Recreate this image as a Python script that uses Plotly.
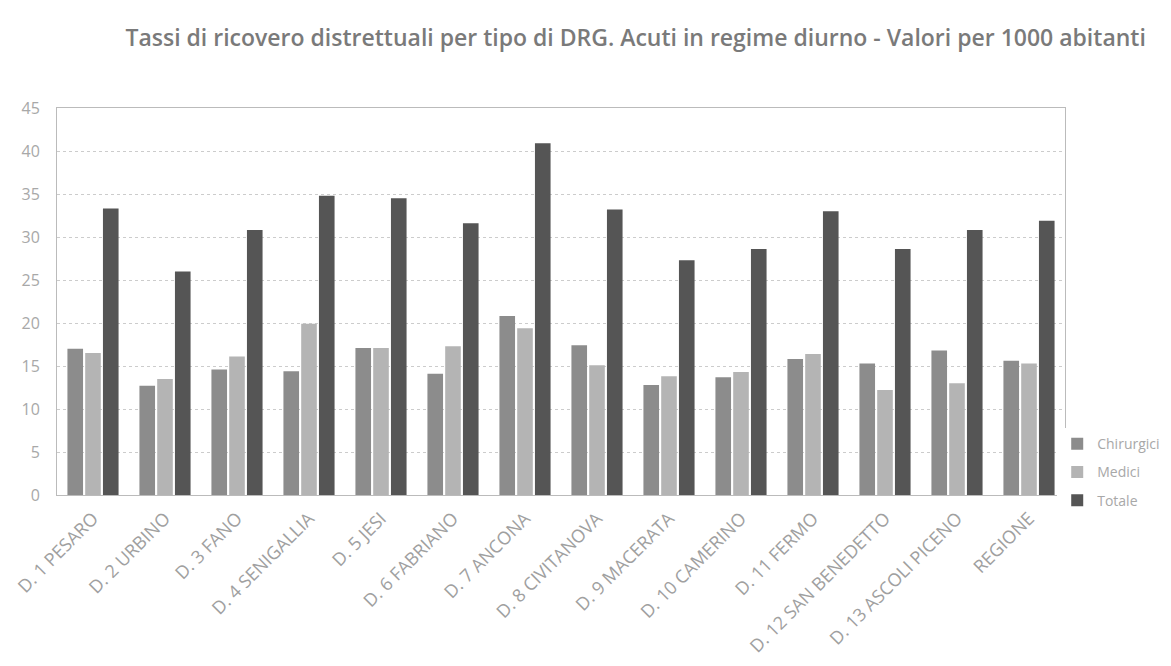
import plotly.graph_objects as go

categories = ["D. 1 PESARO", "D. 2 URBINO", "D. 3 FANO", "D. 4 SENIGALLIA", "D. 5 JESI",
              "D. 6 FABRIANO", "D. 7 ANCONA", "D. 8 CIVITANOVA", "D. 9 MACERATA",
              "D. 10 CAMERINO", "D. 11 FERMO", "D. 12 SAN BENEDETTO", "D. 13 ASCOLI PICENO",
              "REGIONE"]
chirurgici = [17.0, 12.7, 14.6, 14.4, 17.1, 14.1, 20.8, 17.4, 12.8, 13.7, 15.8, 15.3, 16.8, 15.6]
medici = [16.5, 13.5, 16.1, 19.9, 17.1, 17.3, 19.4, 15.1, 13.8, 14.3, 16.4, 12.2, 13.0, 15.3]
totale = [33.3, 26.0, 30.8, 34.8, 34.5, 31.6, 40.9, 33.2, 27.3, 28.6, 33.0, 28.6, 30.8, 31.9]
y_ticks = [0, 5, 10, 15, 20, 25, 30, 35, 40, 45]

title = "Tassi di ricovero distrettuali per tipo di DRG. Acuti in regime diurno - Valori per 1000 abitanti"

fig = go.Figure()
for name, vals, col in [("Chirurgici", chirurgici, "#8c8c8c"),
                        ("Medici", medici, "#b4b4b4"),
                        ("Totale", totale, "#555555")]:
    fig.add_trace(go.Bar(name=name, x=categories, y=vals, marker_color=col,
                         marker_line_width=0, legendgroup=name))

fig.update_layout(
    width=1171, height=666,
    paper_bgcolor="white", plot_bgcolor="white",
    barmode="group", bargap=0.26, bargroupgap=0.12,
    margin=dict(l=49, r=114, t=100, b=179, autoexpand=False),
    font=dict(family="Open Sans, Liberation Sans, sans-serif", color="#999999"),
    title=dict(text=title, x=0.536, xanchor="center", xref="container", y=0.955, yanchor="middle",
               font=dict(size=23, color="#7a7a7a", family="Open Sans, sans-serif", weight=600)),
    legend=dict(x=0.896, xanchor="left", xref="container", y=0.237, yanchor="bottom",
                yref="container",
                font=dict(size=14, color="#a8a8a8"), itemwidth=30,
                tracegroupgap=7),
    showlegend=True,
)
fig.update_xaxes(tickangle=-45, tickfont=dict(size=18, color="#a0a0a0"),
                 ticklabelstandoff=5,
                 showline=True, linecolor="#bbbbbb", mirror=True, linewidth=1,
                 showgrid=False, ticks="", automargin=False)
fig.update_yaxes(range=[0, 45], tickvals=y_ticks, tickfont=dict(size=16, color="#a8a8a8"),
                 ticklabelstandoff=13,
                 showgrid=True, gridcolor="#cccccc", griddash="dot", gridwidth=1,
                 showline=True, linecolor="#bbbbbb", mirror=True, linewidth=1,
                 zeroline=False, ticks="", automargin=False)

fig.write_html("out.html")
